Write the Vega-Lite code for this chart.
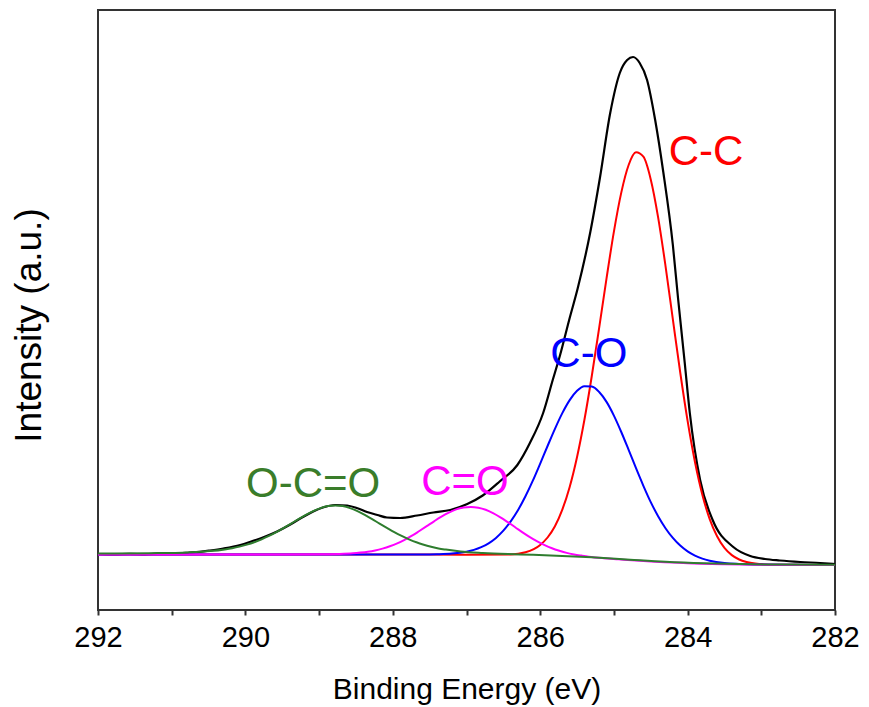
{
  "$schema": "https://vega.github.io/schema/vega-lite/v6.json",
  "width": 737,
  "height": 600,
  "autosize": {"type": "none"},
  "padding": {"left": 98, "top": 10, "right": 34, "bottom": 97},
  "background": "white",
  "config": {"view": {"stroke": "#333333", "strokeWidth": 2}, "font": "Liberation Sans"},
  "datasets": {
    "curves": [
      {"series":"Envelope","be":292.00,"intensity":56.0},
      {"series":"Envelope","be":291.77,"intensity":55.5},
      {"series":"Envelope","be":291.57,"intensity":56.2},
      {"series":"Envelope","be":291.36,"intensity":55.7},
      {"series":"Envelope","be":291.16,"intensity":56.4},
      {"series":"Envelope","be":290.96,"intensity":56.5},
      {"series":"Envelope","be":290.75,"intensity":57.5},
      {"series":"Envelope","be":290.62,"intensity":58.2},
      {"series":"Envelope","be":290.48,"intensity":59.5},
      {"series":"Envelope","be":290.30,"intensity":61.5},
      {"series":"Envelope","be":290.07,"intensity":65.0},
      {"series":"Envelope","be":289.94,"intensity":68.0},
      {"series":"Envelope","be":289.73,"intensity":73.5},
      {"series":"Envelope","be":289.57,"intensity":78.5},
      {"series":"Envelope","be":289.39,"intensity":85.5},
      {"series":"Envelope","be":289.22,"intensity":93.0},
      {"series":"Envelope","be":289.08,"intensity":98.5},
      {"series":"Envelope","be":288.95,"intensity":102.5},
      {"series":"Envelope","be":288.78,"intensity":105.0},
      {"series":"Envelope","be":288.62,"intensity":104.5},
      {"series":"Envelope","be":288.49,"intensity":102.0},
      {"series":"Envelope","be":288.35,"intensity":98.0},
      {"series":"Envelope","be":288.21,"intensity":95.0},
      {"series":"Envelope","be":288.08,"intensity":92.5},
      {"series":"Envelope","be":287.90,"intensity":92.0},
      {"series":"Envelope","be":287.67,"intensity":94.5},
      {"series":"Envelope","be":287.45,"intensity":97.5},
      {"series":"Envelope","be":287.22,"intensity":100.0},
      {"series":"Envelope","be":286.99,"intensity":106.0},
      {"series":"Envelope","be":286.78,"intensity":114.5},
      {"series":"Envelope","be":286.55,"intensity":128.5},
      {"series":"Envelope","be":286.31,"intensity":145.0},
      {"series":"Envelope","be":286.14,"intensity":167.0},
      {"series":"Envelope","be":285.96,"intensity":197.0},
      {"series":"Envelope","be":285.83,"intensity":230.0},
      {"series":"Envelope","be":285.73,"intensity":255.0},
      {"series":"Envelope","be":285.60,"intensity":292.0},
      {"series":"Envelope","be":285.49,"intensity":322.0},
      {"series":"Envelope","be":285.32,"intensity":378.0},
      {"series":"Envelope","be":285.19,"intensity":432.0},
      {"series":"Envelope","be":285.05,"intensity":497.0},
      {"series":"Envelope","be":284.92,"intensity":537.0},
      {"series":"Envelope","be":284.82,"intensity":550.0},
      {"series":"Envelope","be":284.74,"intensity":553.0},
      {"series":"Envelope","be":284.65,"intensity":547.0},
      {"series":"Envelope","be":284.55,"intensity":530.0},
      {"series":"Envelope","be":284.44,"intensity":490.0},
      {"series":"Envelope","be":284.33,"intensity":438.0},
      {"series":"Envelope","be":284.20,"intensity":365.0},
      {"series":"Envelope","be":284.13,"intensity":312.0},
      {"series":"Envelope","be":284.04,"intensity":248.0},
      {"series":"Envelope","be":283.97,"intensity":197.0},
      {"series":"Envelope","be":283.83,"intensity":130.0},
      {"series":"Envelope","be":283.66,"intensity":90.0},
      {"series":"Envelope","be":283.38,"intensity":63.0},
      {"series":"Envelope","be":283.15,"intensity":54.0},
      {"series":"Envelope","be":282.95,"intensity":51.0},
      {"series":"Envelope","be":282.75,"intensity":49.5},
      {"series":"Envelope","be":282.47,"intensity":48.0},
      {"series":"Envelope","be":282.20,"intensity":47.0},
      {"series":"Envelope","be":282.00,"intensity":46.0},

      {"series":"C-C","be":292,"intensity":55.6},
      {"series":"C-C","be":290,"intensity":55.6},
      {"series":"C-C","be":288,"intensity":55.6},
      {"series":"C-C","be":287,"intensity":55.2},
      {"series":"C-C","be":286.4,"intensity":55.5},
      {"series":"C-C","be":286.2,"intensity":57.7},
      {"series":"C-C","be":286.0,"intensity":65.1},
      {"series":"C-C","be":285.9,"intensity":72.5},
      {"series":"C-C","be":285.8,"intensity":83.7},
      {"series":"C-C","be":285.7,"intensity":100.3},
      {"series":"C-C","be":285.6,"intensity":123.0},
      {"series":"C-C","be":285.5,"intensity":153.0},
      {"series":"C-C","be":285.4,"intensity":190.2},
      {"series":"C-C","be":285.3,"intensity":234.0},
      {"series":"C-C","be":285.2,"intensity":282.2},
      {"series":"C-C","be":285.1,"intensity":331.6},
      {"series":"C-C","be":285.0,"intensity":378.4},
      {"series":"C-C","be":284.9,"intensity":417.4},
      {"series":"C-C","be":284.8,"intensity":445.0},
      {"series":"C-C","be":284.7,"intensity":457.7},
      {"series":"C-C","be":284.6,"intensity":453.3},
      {"series":"C-C","be":284.5,"intensity":430.6},
      {"series":"C-C","be":284.4,"intensity":392.7},
      {"series":"C-C","be":284.3,"intensity":344.2},
      {"series":"C-C","be":284.2,"intensity":290.7},
      {"series":"C-C","be":284.1,"intensity":237.5},
      {"series":"C-C","be":284.0,"intensity":189.1},
      {"series":"C-C","be":283.9,"intensity":148.0},
      {"series":"C-C","be":283.8,"intensity":115.3},
      {"series":"C-C","be":283.7,"intensity":90.9},
      {"series":"C-C","be":283.6,"intensity":73.7},
      {"series":"C-C","be":283.5,"intensity":62.1},
      {"series":"C-C","be":283.4,"intensity":54.9},
      {"series":"C-C","be":283.3,"intensity":50.5},
      {"series":"C-C","be":283.2,"intensity":48.0},
      {"series":"C-C","be":283.0,"intensity":45.9},
      {"series":"C-C","be":282.8,"intensity":45.2},
      {"series":"C-C","be":282.5,"intensity":45.15},
      {"series":"C-C","be":282.0,"intensity":45.0},

      {"series":"C-O","be":292,"intensity":55.6},
      {"series":"C-O","be":290,"intensity":55.6},
      {"series":"C-O","be":288,"intensity":55.6},
      {"series":"C-O","be":287.6,"intensity":55.6},
      {"series":"C-O","be":287.4,"intensity":55.8},
      {"series":"C-O","be":287.2,"intensity":56.4},
      {"series":"C-O","be":287.0,"intensity":58.3},
      {"series":"C-O","be":286.9,"intensity":60.1},
      {"series":"C-O","be":286.8,"intensity":62.8},
      {"series":"C-O","be":286.7,"intensity":66.7},
      {"series":"C-O","be":286.6,"intensity":72.1},
      {"series":"C-O","be":286.5,"intensity":79.3},
      {"series":"C-O","be":286.4,"intensity":88.6},
      {"series":"C-O","be":286.3,"intensity":100.0},
      {"series":"C-O","be":286.2,"intensity":113.7},
      {"series":"C-O","be":286.1,"intensity":129.3},
      {"series":"C-O","be":286.0,"intensity":146.4},
      {"series":"C-O","be":285.9,"intensity":164.0},
      {"series":"C-O","be":285.8,"intensity":181.2},
      {"series":"C-O","be":285.7,"intensity":196.9},
      {"series":"C-O","be":285.6,"intensity":209.9},
      {"series":"C-O","be":285.5,"intensity":219.2},
      {"series":"C-O","be":285.4,"intensity":223.8},
      {"series":"C-O","be":285.3,"intensity":223.4},
      {"series":"C-O","be":285.2,"intensity":218.0},
      {"series":"C-O","be":285.1,"intensity":208.1},
      {"series":"C-O","be":285.0,"intensity":194.4},
      {"series":"C-O","be":284.9,"intensity":178.0},
      {"series":"C-O","be":284.8,"intensity":160.1},
      {"series":"C-O","be":284.7,"intensity":141.8},
      {"series":"C-O","be":284.6,"intensity":124.2},
      {"series":"C-O","be":284.5,"intensity":107.9},
      {"series":"C-O","be":284.4,"intensity":93.8},
      {"series":"C-O","be":284.3,"intensity":81.8},
      {"series":"C-O","be":284.2,"intensity":72.1},
      {"series":"C-O","be":284.1,"intensity":64.4},
      {"series":"C-O","be":284.0,"intensity":58.6},
      {"series":"C-O","be":283.9,"intensity":54.4},
      {"series":"C-O","be":283.8,"intensity":51.4},
      {"series":"C-O","be":283.7,"intensity":49.3},
      {"series":"C-O","be":283.5,"intensity":46.9},
      {"series":"C-O","be":283.3,"intensity":46.0},
      {"series":"C-O","be":283.1,"intensity":45.5},
      {"series":"C-O","be":282.5,"intensity":45.15},
      {"series":"C-O","be":282.0,"intensity":45.0},

      {"series":"C=O","be":292,"intensity":55.6},
      {"series":"C=O","be":290,"intensity":55.6},
      {"series":"C=O","be":288.94,"intensity":55.7},
      {"series":"C=O","be":288.74,"intensity":56.0},
      {"series":"C=O","be":288.54,"intensity":56.7},
      {"series":"C=O","be":288.44,"intensity":57.4},
      {"series":"C=O","be":288.34,"intensity":58.3},
      {"series":"C=O","be":288.24,"intensity":59.6},
      {"series":"C=O","be":288.14,"intensity":61.4},
      {"series":"C=O","be":288.04,"intensity":63.7},
      {"series":"C=O","be":287.94,"intensity":66.6},
      {"series":"C=O","be":287.84,"intensity":70.2},
      {"series":"C=O","be":287.74,"intensity":74.3},
      {"series":"C=O","be":287.64,"intensity":79.0},
      {"series":"C=O","be":287.54,"intensity":83.8},
      {"series":"C=O","be":287.44,"intensity":88.7},
      {"series":"C=O","be":287.34,"intensity":93.3},
      {"series":"C=O","be":287.24,"intensity":97.3},
      {"series":"C=O","be":287.14,"intensity":100.6},
      {"series":"C=O","be":287.04,"intensity":102.5},
      {"series":"C=O","be":286.94,"intensity":103.1},
      {"series":"C=O","be":286.84,"intensity":102.3},
      {"series":"C=O","be":286.74,"intensity":100.2},
      {"series":"C=O","be":286.64,"intensity":96.8},
      {"series":"C=O","be":286.54,"intensity":92.6},
      {"series":"C=O","be":286.44,"intensity":87.8},
      {"series":"C=O","be":286.34,"intensity":82.8},
      {"series":"C=O","be":286.24,"intensity":77.7},
      {"series":"C=O","be":286.14,"intensity":72.9},
      {"series":"C=O","be":286.04,"intensity":68.7},
      {"series":"C=O","be":285.94,"intensity":64.9},
      {"series":"C=O","be":285.84,"intensity":61.7},
      {"series":"C=O","be":285.74,"intensity":59.2},
      {"series":"C=O","be":285.64,"intensity":57.1},
      {"series":"C=O","be":285.54,"intensity":55.6},
      {"series":"C=O","be":285.44,"intensity":54.4},
      {"series":"C=O","be":285.34,"intensity":53.3},
      {"series":"C=O","be":285.14,"intensity":51.8},
      {"series":"C=O","be":284.94,"intensity":50.7},
      {"series":"C=O","be":284.7,"intensity":49.4},
      {"series":"C=O","be":284.5,"intensity":48.5},
      {"series":"C=O","be":284.2,"intensity":47.5},
      {"series":"C=O","be":284.0,"intensity":46.8},
      {"series":"C=O","be":283.5,"intensity":45.8},
      {"series":"C=O","be":283.0,"intensity":45.3},
      {"series":"C=O","be":282.0,"intensity":45.0},

      {"series":"O-C=O","be":292.0,"intensity":56.4},
      {"series":"O-C=O","be":291.78,"intensity":56.5},
      {"series":"O-C=O","be":291.28,"intensity":56.8},
      {"series":"O-C=O","be":290.78,"intensity":57.6},
      {"series":"O-C=O","be":290.48,"intensity":58.9},
      {"series":"O-C=O","be":290.28,"intensity":60.6},
      {"series":"O-C=O","be":290.18,"intensity":61.8},
      {"series":"O-C=O","be":290.08,"intensity":63.4},
      {"series":"O-C=O","be":289.98,"intensity":65.4},
      {"series":"O-C=O","be":289.88,"intensity":67.8},
      {"series":"O-C=O","be":289.78,"intensity":70.7},
      {"series":"O-C=O","be":289.68,"intensity":74.1},
      {"series":"O-C=O","be":289.58,"intensity":77.9},
      {"series":"O-C=O","be":289.48,"intensity":82.1},
      {"series":"O-C=O","be":289.38,"intensity":86.4},
      {"series":"O-C=O","be":289.28,"intensity":90.9},
      {"series":"O-C=O","be":289.18,"intensity":95.1},
      {"series":"O-C=O","be":289.08,"intensity":98.9},
      {"series":"O-C=O","be":288.98,"intensity":101.9},
      {"series":"O-C=O","be":288.88,"intensity":103.9},
      {"series":"O-C=O","be":288.78,"intensity":104.6},
      {"series":"O-C=O","be":288.68,"intensity":103.9},
      {"series":"O-C=O","be":288.58,"intensity":101.9},
      {"series":"O-C=O","be":288.48,"intensity":98.9},
      {"series":"O-C=O","be":288.38,"intensity":95.1},
      {"series":"O-C=O","be":288.28,"intensity":90.9},
      {"series":"O-C=O","be":288.18,"intensity":86.4},
      {"series":"O-C=O","be":288.08,"intensity":82.1},
      {"series":"O-C=O","be":287.98,"intensity":77.9},
      {"series":"O-C=O","be":287.88,"intensity":74.1},
      {"series":"O-C=O","be":287.78,"intensity":70.7},
      {"series":"O-C=O","be":287.68,"intensity":67.7},
      {"series":"O-C=O","be":287.58,"intensity":65.3},
      {"series":"O-C=O","be":287.48,"intensity":63.3},
      {"series":"O-C=O","be":287.38,"intensity":61.6},
      {"series":"O-C=O","be":287.28,"intensity":60.4},
      {"series":"O-C=O","be":287.08,"intensity":58.5},
      {"series":"O-C=O","be":286.78,"intensity":57.0},
      {"series":"O-C=O","be":286.28,"intensity":55.6},
      {"series":"O-C=O","be":285.78,"intensity":54.3},
      {"series":"O-C=O","be":285.3,"intensity":52.7},
      {"series":"O-C=O","be":284.78,"intensity":50.3},
      {"series":"O-C=O","be":284.3,"intensity":48.2},
      {"series":"O-C=O","be":283.78,"intensity":46.7},
      {"series":"O-C=O","be":283.3,"intensity":45.9},
      {"series":"O-C=O","be":282.78,"intensity":45.5},
      {"series":"O-C=O","be":282.0,"intensity":45.2}
    ],
    "labels": [
      {"label":"C-C","be":283.75,"intensity":445},
      {"label":"C-O","be":285.34,"intensity":243},
      {"label":"O-C=O","be":289.08,"intensity":113},
      {"label":"C=O","be":287.02,"intensity":115}
    ]
  },
  "encoding": {
    "x": {
      "field": "be",
      "type": "quantitative",
      "scale": {"domain": [282, 292], "reverse": true, "nice": false, "zero": false},
      "axis": {
        "values": [282, 283, 284, 285, 286, 287, 288, 289, 290, 291, 292],
        "labelExpr": "datum.value % 2 === 0 ? datum.label : ''",
        "domain": false,
        "ticks": true,
        "tickSize": 5,
        "tickWidth": 2,
        "tickColor": "#333333",
        "labelFontSize": 29,
        "labelFont": "Liberation Sans",
        "labelColor": "#000000",
        "labelPadding": 8,
        "labelFlush": false,
        "labelOverlap": false,
        "labelBound": false,
        "grid": false,
        "title": "Binding Energy (eV)",
        "titleFontSize": 30,
        "titleFont": "Liberation Sans",
        "titleFontWeight": "normal",
        "titleColor": "#000000",
        "titleBaseline": "alphabetic",
        "titleX": 368.5,
        "titleY": 88
      }
    },
    "y": {
      "field": "intensity",
      "type": "quantitative",
      "scale": {"domain": [0, 600], "nice": false, "zero": false},
      "axis": {
        "domain": false,
        "ticks": false,
        "labels": false,
        "grid": false,
        "title": "Intensity (a.u.)",
        "titleFontSize": 37,
        "titleFont": "Liberation Sans",
        "titleFontWeight": "normal",
        "titleColor": "#000000",
        "titleBaseline": "alphabetic",
        "titleAngle": 270,
        "titleX": -58,
        "titleY": 315
      }
    }
  },
  "layer": [
    {"data": {"name": "curves"}, "transform": [{"filter": "datum.series === 'Envelope'"}], "mark": {"type": "line", "color": "#000000", "strokeWidth": 2.2, "interpolate": "monotone"}},
    {"data": {"name": "curves"}, "transform": [{"filter": "datum.series === 'C-C'"}], "mark": {"type": "line", "color": "#FF0000", "strokeWidth": 2, "interpolate": "monotone"}},
    {"data": {"name": "curves"}, "transform": [{"filter": "datum.series === 'C-O'"}], "mark": {"type": "line", "color": "#0000FF", "strokeWidth": 2, "interpolate": "monotone"}},
    {"data": {"name": "curves"}, "transform": [{"filter": "datum.series === 'C=O'"}], "mark": {"type": "line", "color": "#FF00FF", "strokeWidth": 2, "interpolate": "monotone"}},
    {"data": {"name": "curves"}, "transform": [{"filter": "datum.series === 'O-C=O'"}], "mark": {"type": "line", "color": "#2E7D2E", "strokeWidth": 2, "interpolate": "monotone"}},
    {
      "data": {"name": "labels"},
      "mark": {"type": "text", "fontSize": 42, "font": "Liberation Sans", "baseline": "alphabetic", "align": "center"},
      "encoding": {
        "text": {"field": "label"},
        "color": {"field": "label", "type": "nominal", "scale": {"domain": ["C-C", "C-O", "C=O", "O-C=O"], "range": ["#FF0000", "#0000FF", "#FF00FF", "#3A7D2A"]}, "legend": null}
      }
    }
  ]
}
